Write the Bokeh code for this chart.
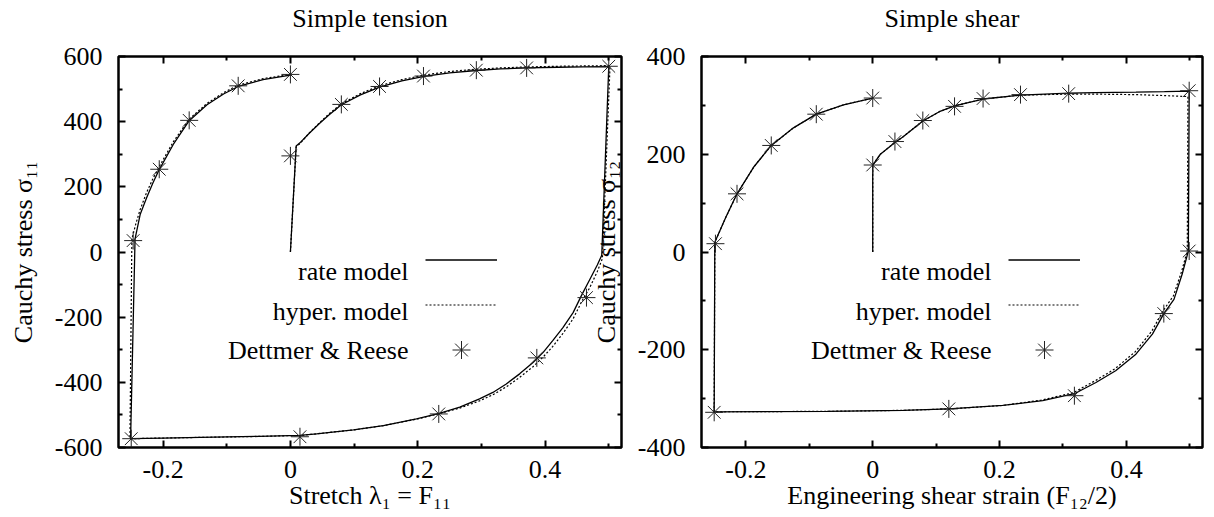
from bokeh.plotting import figure
from bokeh.models import LinearAxis, FixedTicker, Legend, LegendItem, Label, Range1d
from bokeh.layouts import row
from bokeh.embed import file_html
from bokeh.resources import INLINE
from bokeh.core.properties import value

FONT = "Liberation Serif"

# ---------------- shared axis data ----------------
x_limits = (-0.27, 0.52)
x_ticks = [-0.2, 0.0, 0.2, 0.4]
x_minor = [-0.1, 0.1, 0.3, 0.5]
x_tick_labels = ["-0.2", "0", "0.2", "0.4"]

legend_labels = ["rate model", "hyper. model", "Dettmer & Reese"]

# ---------------- simple tension ----------------
tension_title = "Simple tension"
tension_xlabel = "Stretch λ₁ = F₁₁"
tension_ylabel = "Cauchy stress σ₁₁"
tension_ylim = (-600, 600)
tension_y_ticks = [-600, -400, -200, 0, 200, 400, 600]
tension_y_minor = [-500, -300, -100, 100, 300, 500]
tension_y_labels = ["-600", "-400", "-200", "0", "200", "400", "600"]

tension_rate_x = [0.0, 0.009, 0.015, 0.03, 0.046, 0.06, 0.08, 0.11, 0.14, 0.175, 0.21, 0.25, 0.292, 0.33, 0.371, 0.42, 0.46, 0.5,
                  0.489, 0.482, 0.47, 0.458, 0.444, 0.428, 0.412, 0.397, 0.381, 0.36, 0.339, 0.318, 0.297, 0.266, 0.234,
                  0.198, 0.146, 0.099, 0.041, 0.015, -0.05, -0.142, -0.2, -0.251,
                  -0.244, -0.236, -0.226, -0.216, -0.206, -0.184, -0.159, -0.131, -0.105, -0.082, -0.043, 0.0]
tension_rate_y = [0, 325, 335, 365, 395, 420, 452, 482, 506, 525, 539, 550, 557, 562, 565, 567, 568, 569,
                  -10, -40, -85, -130, -186, -232, -272, -308, -339, -374, -405, -431, -451, -476, -495,
                  -512, -533, -546, -558, -563, -566, -569, -571, -573,
                  40, 115, 166, 212, 253, 330, 403, 452, 485, 508, 529, 543]

tension_hyper_x = [0.0, 0.009, 0.015, 0.03, 0.046, 0.06, 0.08, 0.11, 0.14, 0.175, 0.21, 0.25, 0.292, 0.33, 0.371, 0.42, 0.46, 0.502,
                   0.49, 0.482, 0.47, 0.458, 0.444, 0.428, 0.412, 0.397, 0.381, 0.36, 0.339, 0.318, 0.297, 0.266, 0.234,
                   0.198, 0.146, 0.099, 0.041, 0.015, -0.05, -0.142, -0.2, -0.252,
                   -0.249, -0.243, -0.236, -0.226, -0.216, -0.206, -0.184, -0.159, -0.131, -0.105, -0.082, -0.043, 0.0]
tension_hyper_y = [0, 322, 333, 366, 397, 423, 455, 486, 510, 529, 543, 554, 561, 565, 568, 570, 571, 572,
                   -20, -60, -110, -150, -205, -250, -290, -322, -352, -385, -414, -438, -457, -479, -496,
                   -513, -533, -546, -558, -563, -566, -569, -571, -573,
                   40, 85, 130, 182, 225, 262, 338, 408, 456, 489, 512, 532, 545]

tension_exp_x = [0.0, 0.08, 0.14, 0.209, 0.292, 0.371, 0.5, 0.465, 0.387, 0.233, 0.015, -0.25, -0.247, -0.206, -0.159, -0.082, 0.0]
tension_exp_y = [295, 453, 508, 540, 558, 565, 570, -140, -325, -497, -567, -573, 35, 254, 404, 510, 545]

# ---------------- simple shear ----------------
shear_title = "Simple shear"
shear_xlabel = "Engineering shear strain (F₁₂/2)"
shear_ylabel = "Cauchy stress σ₁₂"
shear_ylim = (-400, 400)
shear_y_ticks = [-400, -200, 0, 200, 400]
shear_y_minor = [-300, -100, 100, 300]
shear_y_labels = ["-400", "-200", "0", "200", "400"]

shear_rate_x = [0.0, 0.0, 0.012, 0.035, 0.048, 0.079, 0.105, 0.129, 0.174, 0.233, 0.309, 0.35, 0.415, 0.46, 0.499,
                0.4977, 0.488, 0.475, 0.459, 0.441, 0.415, 0.383, 0.352, 0.318, 0.268, 0.205, 0.12, 0.048, -0.072, -0.25,
                -0.249, -0.232, -0.214, -0.187, -0.16, -0.125, -0.089, -0.046, 0.0]
shear_rate_y = [0, 178, 200, 224, 236, 268, 287, 299, 313, 321, 325, 326, 327, 328, 329,
                2, -45, -97, -126, -168, -209, -243, -267, -290, -304, -314, -321, -324, -326, -327,
                20, 70, 119, 175, 218, 254, 282, 301, 315]

shear_hyper_x = [0.0, 0.0, 0.012, 0.035, 0.048, 0.079, 0.105, 0.129, 0.174, 0.233, 0.309, 0.35, 0.415, 0.46, 0.497,
                 0.496, 0.487, 0.474, 0.458, 0.44, 0.414, 0.382, 0.35, 0.316, 0.266, 0.205, 0.12, 0.048, -0.072, -0.25,
                 -0.249, -0.232, -0.214, -0.187, -0.16, -0.125, -0.089, -0.046, 0.0]
shear_hyper_y = [0, 178, 200, 224, 236, 268, 287, 299, 313, 321, 323, 323, 322, 320, 318,
                 2, -40, -90, -120, -162, -204, -239, -264, -288, -303, -314, -321, -324, -326, -327,
                 20, 70, 119, 175, 218, 254, 282, 301, 315]

shear_exp_x = [0.0, 0.035, 0.079, 0.129, 0.174, 0.233, 0.309, 0.499, 0.499, 0.459, 0.318, 0.12, -0.25, -0.248, -0.214, -0.16, -0.089, 0.0]
shear_exp_y = [178, 226, 269, 298, 314, 322, 324, 330, 2, -126, -294, -321, -328, 17, 119, 218, 282, 315]

H = 517


def style_axis(ax, ticks, minor, labels=None, label_standoff=0, title=None, title_standoff=0):
    ax.ticker = FixedTicker(ticks=ticks, minor_ticks=minor)
    ax.axis_line_color = None
    ax.major_tick_in = 7
    ax.major_tick_out = 0
    ax.minor_tick_in = 4
    ax.minor_tick_out = 0
    ax.major_tick_line_width = 2
    ax.minor_tick_line_width = 2
    ax.major_tick_line_color = "black"
    ax.minor_tick_line_color = "black"
    if labels is not None:
        ax.major_label_overrides = {t: s for t, s in zip(ticks, labels)}
        ax.major_label_text_font = FONT
        ax.major_label_text_font_size = "26px"
        ax.major_label_text_color = "black"
        ax.major_label_standoff = label_standoff
    else:
        ax.major_label_overrides = {t: "" for t in ticks}
        ax.major_label_text_font_size = "1px"
        ax.major_label_standoff = 0
    if title is not None:
        ax.axis_label = title
        ax.axis_label_text_font = FONT
        ax.axis_label_text_font_size = "26px"
        ax.axis_label_text_font_style = "normal"
        ax.axis_label_text_color = "black"
        ax.axis_label_standoff = title_standoff


def panel(title, xlabel, ylabel, ylim, yt, ym, yl, rx, ry, hx, hy, ex, ey,
          width, bl, br, margin, transparent):
    p = figure(width=width, height=H, x_range=Range1d(*x_limits), y_range=Range1d(*ylim),
               output_backend="svg", toolbar_location=None, title=None,
               min_border_left=bl, min_border_right=br, min_border_top=55, min_border_bottom=70,
               margin=margin)
    p.xgrid.visible = False
    p.ygrid.visible = False
    p.outline_line_color = "black"
    p.outline_line_width = 2.5
    p.outline_line_alpha = 1.0
    if transparent:
        p.border_fill_color = None

    style_axis(p.xaxis[0], x_ticks, x_minor, x_tick_labels, 13, xlabel, 0)
    style_axis(p.yaxis[0], yt, ym, yl, 16, ylabel, 14)
    # top axis: mirrored ticks, carries the panel title
    top = LinearAxis()
    style_axis(top, x_ticks, x_minor, title=title, title_standoff=24)
    p.add_layout(top, "above")
    right = LinearAxis()
    style_axis(right, yt, ym)
    p.add_layout(right, "right")

    r_rate = p.line(rx, ry, line_color="black", line_width=1.3)
    r_hyp = p.line(hx, hy, line_color="black", line_width=1.2, line_dash="2 2")
    r_exp = p.scatter(ex, ey, marker="asterisk", size=18, line_color="#222222", line_width=1)

    legend = Legend(items=[LegendItem(label=value(" "), renderers=[r]) for r in (r_rate, r_hyp, r_exp)],
                    location=(307, 75), orientation="vertical",
                    glyph_width=72, glyph_height=45, spacing=-6, padding=0, margin=0,
                    label_standoff=0, label_width=0, label_height=10,
                    label_text_font_size="1px",
                    border_line_color=None, background_fill_alpha=0)
    p.add_layout(legend)

    for i, txt in enumerate(legend_labels):
        p.add_layout(Label(x=290, y=176 - 39.5 * i, x_units="screen", y_units="screen", text=txt,
                           text_font=FONT, text_font_size="26px", text_align="right",
                           text_baseline="middle", text_color="black"))
    return p


p1 = panel(tension_title, tension_xlabel, tension_ylabel, tension_ylim,
           tension_y_ticks, tension_y_minor, tension_y_labels,
           tension_rate_x, tension_rate_y, tension_hyper_x, tension_hyper_y, tension_exp_x, tension_exp_y,
           width=623, bl=118, br=2, margin=(0, 0, 0, 0), transparent=False)
p2 = panel(shear_title, shear_xlabel, shear_ylabel, shear_ylim,
           shear_y_ticks, shear_y_minor, shear_y_labels,
           shear_rate_x, shear_rate_y, shear_hyper_x, shear_hyper_y, shear_exp_x, shear_exp_y,
           width=618, bl=109, br=4, margin=(0, 0, 0, -35), transparent=True)

layout = row(p1, p2)
open("out.html", "w").write(file_html(layout, INLINE))
